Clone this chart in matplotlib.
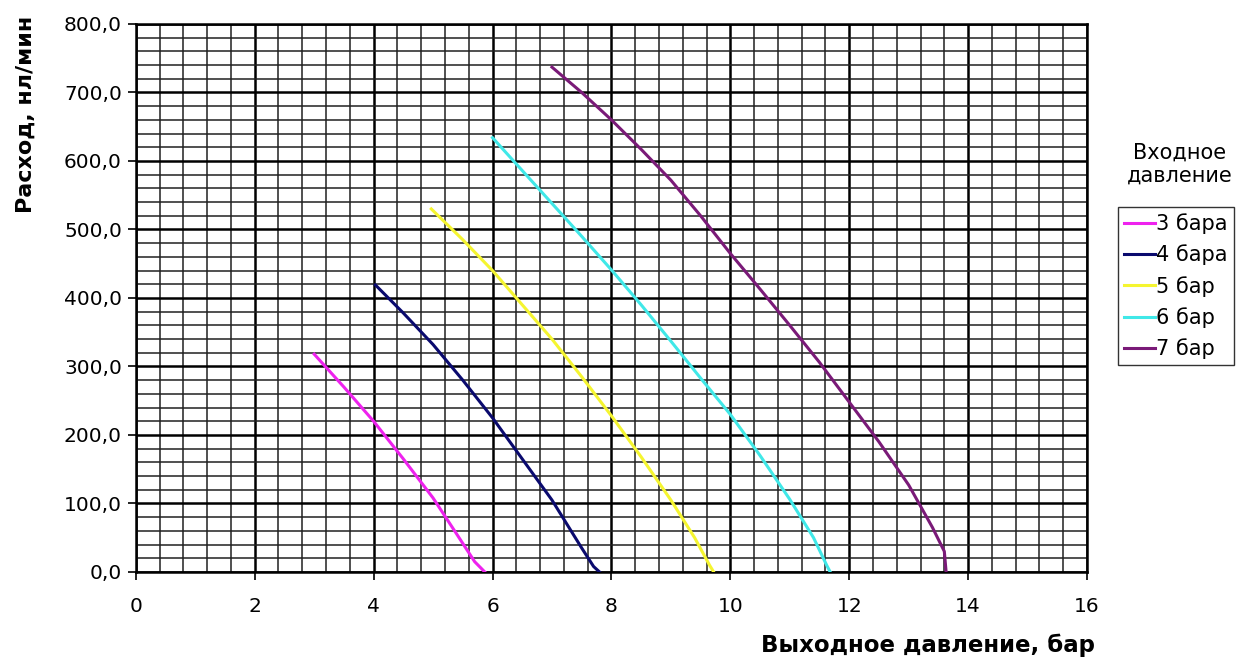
import matplotlib.pyplot as plt
from matplotlib.ticker import MultipleLocator, FuncFormatter

plt.rcParams['font.family'] = ['DejaVu Sans']

# curves: outlet pressure (bar) vs flow (nl/min)
x_3 = [3.0, 3.5, 4.0, 4.5, 5.0, 5.4, 5.7, 5.87]
y_3 = [318, 270, 220, 165, 108, 55, 15, 0]

x_4 = [4.03, 4.5, 5.0, 5.5, 6.0, 6.5, 7.0, 7.5, 7.7, 7.8]
y_4 = [419, 378, 332, 280, 225, 165, 105, 35, 8, 0]

x_5 = [4.97, 5.5, 6.0, 6.5, 7.0, 7.5, 8.0, 8.5, 9.0, 9.4, 9.65, 9.72]
y_5 = [530, 485, 440, 390, 340, 285, 228, 168, 105, 50, 10, 0]

x_6 = [6.0, 6.5, 7.0, 7.5, 8.0, 8.5, 9.0, 9.5, 10.0, 10.5, 11.0, 11.4, 11.62, 11.68]
y_6 = [634, 586, 538, 490, 441, 390, 337, 283, 230, 170, 106, 50, 10, 0]

x_7 = [7.0, 7.5, 8.0, 8.5, 9.0, 9.5, 10.0, 10.5, 11.0, 11.5, 12.0, 12.5, 13.0, 13.4, 13.6, 13.63]
y_7 = [737, 700, 660, 617, 572, 520, 465, 413, 360, 306, 248, 190, 127, 65, 30, 0]

labels = ['3 бара', '4 бара', '5 бар', '6 бар', '7 бар']
colors = ['#ee22ee', '#0a0a6e', '#f5f530', '#40e8e8', '#7a1a78']

fig = plt.figure(figsize=(12.46, 6.64), dpi=100)
ax = fig.add_axes([0.109, 0.1386, 0.7634, 0.8253])

lines = []
for xs, ys, c, lab in zip([x_3, x_4, x_5, x_6, x_7], [y_3, y_4, y_5, y_6, y_7], colors, labels):
    ln, = ax.plot(xs, ys, color=c, lw=2.2, label=lab, zorder=3)
    lines.append(ln)

ax.set_xlim(0, 16)
ax.set_ylim(0, 800)
ax.xaxis.set_major_locator(MultipleLocator(2))
ax.xaxis.set_minor_locator(MultipleLocator(0.4))
ax.yaxis.set_major_locator(MultipleLocator(100))
ax.yaxis.set_minor_locator(MultipleLocator(20))
ax.yaxis.set_major_formatter(FuncFormatter(lambda v, p: f'{v:.1f}'.replace('.', ',')))

ax.grid(which='major', color='black', lw=1.8, zorder=1)
ax.grid(which='minor', color='#202020', lw=1.1, zorder=1)
ax.set_axisbelow(True)
for s in ax.spines.values():
    s.set_linewidth(1.8)
    s.set_color('black')

ax.tick_params(which='major', direction='out', length=6, width=1.2, labelsize=14.5, pad=4)
ax.tick_params(which='minor', length=0)
ax.tick_params(axis='x', pad=12)

fig.text(0.021, 0.827, 'Расход, нл/мин', rotation=90, ha='center', va='center',
         fontsize=16, fontweight='bold')
fig.text(0.745, 0.028, 'Выходное давление, бар', ha='center', va='center',
         fontsize=16.5, fontweight='bold')

fig.text(0.947, 0.753, 'Входное\nдавление', ha='center', va='center', fontsize=15,
         linespacing=1.15)
leg = fig.legend(handles=lines, loc='upper left', bbox_to_anchor=(0.897, 0.688),
                 fontsize=15, frameon=True, fancybox=False, edgecolor='black',
                 handlelength=1.5, handletextpad=0.05, borderpad=0.3,
                 labelspacing=0.5, borderaxespad=0)
leg.get_frame().set_linewidth(1.0)

fig.savefig('out.png', dpi=100)
